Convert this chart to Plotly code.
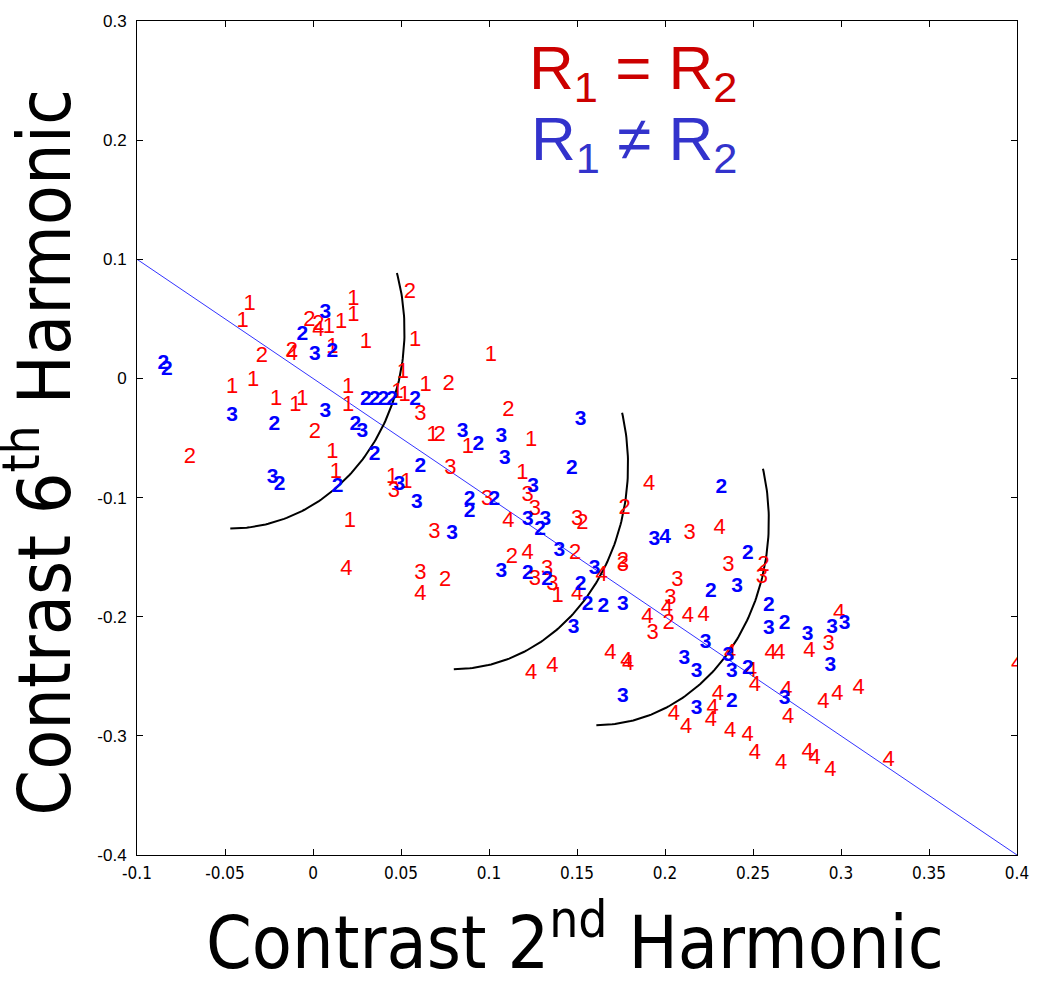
import numpy as np
import plotly.graph_objects as go

# ---- data ----
red_x = [-0.036, -0.040, -0.002, 0.003, 0.003, 0.009, 0.016, 0.023, 0.023, 0.055, 0.030, 0.058,
         -0.029, -0.012, -0.012, 0.011, -0.046, -0.034, -0.021, -0.010, -0.006, 0.001, 0.020, 0.020,
         0.011, 0.051, 0.048, 0.052, 0.064, 0.061, -0.070, 0.013, 0.021, 0.019, 0.045, 0.046, 0.053,
         0.069, 0.061, 0.061, 0.101, 0.077, 0.111, 0.068, 0.072, 0.088, 0.124, 0.078, 0.119, 0.122,
         0.126, 0.099, 0.150, 0.153, 0.111, 0.191, 0.177, 0.113, 0.122, 0.149, 0.126, 0.133, 0.136,
         0.139, 0.075, 0.150, 0.164, 0.176, 0.176, 0.214, 0.231, 0.207, 0.203, 0.201, 0.190, 0.193,
         0.202, 0.213, 0.222, 0.236, 0.256, 0.255, 0.169, 0.178, 0.179, 0.124, 0.136, 0.205, 0.299,
         0.293, 0.260, 0.265, 0.282, 0.237, 0.249, 0.251, 0.269, 0.270, 0.230, 0.227, 0.226, 0.212,
         0.237, 0.247, 0.251, 0.266, 0.281, 0.285, 0.294, 0.290, 0.298, 0.310, 0.327, 0.400]
red_y = [0.062, 0.048, 0.049, 0.045, 0.040, 0.043, 0.047, 0.066, 0.053, 0.072, 0.030, 0.032,
         0.018, 0.023, 0.020, 0.026, -0.008, -0.002, -0.018, -0.023, -0.018, -0.045, -0.008, -0.023,
         -0.062, 0.005, -0.012, -0.014, -0.006, -0.030, -0.066, -0.079, -0.120, -0.160, -0.083, -0.095, -0.087,
         -0.129, -0.164, -0.181, 0.019, -0.005, -0.027, -0.048, -0.048, -0.058, -0.052, -0.076, -0.080, -0.098,
         -0.110, -0.102, -0.118, -0.122, -0.120, -0.089, -0.109, -0.150, -0.147, -0.147, -0.169, -0.160, -0.173,
         -0.183, -0.170, -0.181, -0.165, -0.154, -0.157, -0.130, -0.126, -0.170, -0.185, -0.193, -0.201, -0.214,
         -0.206, -0.200, -0.199, -0.157, -0.157, -0.167, -0.231, -0.238, -0.240, -0.248, -0.242, -0.282, -0.197,
         -0.223, -0.231, -0.231, -0.229, -0.231, -0.246, -0.258, -0.262, -0.285, -0.265, -0.277, -0.287, -0.293,
         -0.296, -0.300, -0.315, -0.323, -0.314, -0.319, -0.329, -0.272, -0.265, -0.260, -0.321, -0.240]
red_lab = ['1', '1', '2', '2', '4', '1', '1', '1', '1', '2', '1', '1',
           '2', '2', '4', '1', '1', '1', '1', '1', '1', '2', '1', '1',
           '1', '1', '1', '1', '1', '3', '2', '1', '1', '4', '1', '3', '1',
           '3', '3', '4', '1', '2', '2', '1', '2', '1', '1', '3', '1', '3',
           '3', '3', '3', '2', '4', '4', '2', '2', '4', '2', '3', '3', '3',
           '1', '2', '4', '4', '2', '3', '3', '4', '3', '3', '4', '4', '3',
           '2', '4', '4', '3', '2', '3', '4', '4', '4', '4', '4', '4', '4',
           '3', '4', '4', '4', '4', '4', '4', '4', '4', '4', '4', '4', '4',
           '4', '4', '4', '4', '4', '4', '4', '4', '4', '4', '4', '4']

blue_x = [0.007, -0.006, 0.001, 0.011, -0.085, -0.083, -0.046, -0.022, 0.007, 0.024, 0.028, 0.030,
          0.035, 0.040, 0.045, 0.058, 0.035, 0.061, -0.023, -0.019, 0.014, 0.049, 0.059, 0.152,
          0.085, 0.094, 0.107, 0.109, 0.147, 0.125, 0.089, 0.089, 0.103, 0.122, 0.129, 0.132,
          0.079, 0.122, 0.140, 0.107, 0.133, 0.152, 0.160, 0.156, 0.165, 0.176, 0.148, 0.176,
          0.194, 0.200, 0.232, 0.247, 0.241, 0.226, 0.259, 0.259, 0.268, 0.281, 0.295, 0.302,
          0.294, 0.223, 0.211, 0.218, 0.236, 0.238, 0.247, 0.268, 0.218, 0.238]
blue_y = [0.055, 0.037, 0.020, 0.022, 0.012, 0.007, -0.031, -0.039, -0.028, -0.039, -0.045, -0.018,
          -0.018, -0.018, -0.018, -0.018, -0.064, -0.074, -0.083, -0.089, -0.091, -0.089, -0.104, -0.035,
          -0.045, -0.056, -0.049, -0.067, -0.076, -0.091, -0.102, -0.112, -0.102, -0.119, -0.127, -0.119,
          -0.130, -0.164, -0.145, -0.162, -0.169, -0.173, -0.160, -0.190, -0.192, -0.190, -0.209, -0.267,
          -0.135, -0.134, -0.092, -0.147, -0.175, -0.179, -0.191, -0.210, -0.206, -0.215, -0.209, -0.206,
          -0.241, -0.222, -0.235, -0.246, -0.233, -0.246, -0.244, -0.269, -0.277, -0.271]
blue_lab = ['3', '2', '3', '2', '2', '2', '3', '2', '3', '2', '3', '2',
            '2', '2', '2', '2', '2', '2', '3', '2', '2', '3', '3', '3',
            '3', '2', '3', '3', '2', '3', '2', '2', '2', '3', '2', '3',
            '3', '2', '3', '3', '2', '2', '3', '2', '2', '3', '3', '3',
            '3', '4', '2', '2', '3', '2', '2', '3', '2', '3', '3', '3',
            '3', '3', '3', '3', '3', '3', '2', '3', '3', '2']

# regression line y = -x across the axis range
line_x = [-0.1, 0.4]
line_y = [0.1, -0.4]

# three elliptical arcs: centre x, centre y, x-radius, y-radius, start/end angle (deg)
arc_cx = [-0.047, 0.080, 0.161]
arc_cy = [0.040, -0.073, -0.120]
arc_rx = [0.099, 0.099, 0.098]
arc_ry = [0.166, 0.171, 0.171]
arc_a0 = [-90, -90, -90]
arc_a1 = [17, 15, 15]

x_ticks = [-0.1, -0.05, 0, 0.05, 0.1, 0.15, 0.2, 0.25, 0.3, 0.35, 0.4]
x_tick_text = ['-0.1', '-0.05', '0', '0.05', '0.1', '0.15', '0.2', '0.25', '0.3', '0.35', '0.4']
y_ticks = [-0.4, -0.3, -0.2, -0.1, 0, 0.1, 0.2, 0.3]
y_tick_text = ['-0.4', '-0.3', '-0.2', '-0.1', '0', '0.1', '0.2', '0.3']

NARROW = "DejaVu Sans Condensed, Liberation Sans Narrow, Arial Narrow, Liberation Sans"
REG = "Liberation Sans, Arial"

fig = go.Figure()

fig.add_trace(go.Scatter(x=line_x, y=line_y, mode='lines',
                         line=dict(color='#3333ff', width=1), hoverinfo='skip'))

for cx, cy, rx, ry, a0, a1 in zip(arc_cx, arc_cy, arc_rx, arc_ry, arc_a0, arc_a1):
    t = np.radians(np.linspace(a0, a1, 120))
    fig.add_trace(go.Scatter(x=cx + rx * np.cos(t), y=cy + ry * np.sin(t), mode='lines',
                             line=dict(color='black', width=2), hoverinfo='skip'))

fig.add_trace(go.Scatter(x=red_x, y=red_y, mode='text', text=red_lab,
                         textposition='middle center',
                         textfont=dict(color='#ff0000', size=22, family=REG)))
fig.add_trace(go.Scatter(x=blue_x, y=blue_y, mode='text', text=blue_lab,
                         textposition='middle center',
                         textfont=dict(color='#0000ff', size=21, family=REG, weight='bold')))

axis_common = dict(showgrid=False, zeroline=False, showline=True, linecolor='black',
                   linewidth=1, mirror='ticks', ticks='inside', ticklen=6,
                   tickcolor='black')

fig.update_xaxes(range=[-0.1, 0.4], tickvals=x_ticks, ticktext=x_tick_text,
                 ticklabelstandoff=3,
                 tickfont=dict(family=NARROW, size=17, color='black'), **axis_common)
fig.update_yaxes(range=[-0.4, 0.3], tickvals=y_ticks, ticktext=y_tick_text,
                 ticklabelstandoff=6,
                 tickfont=dict(family=REG, size=17, color='black'), **axis_common)

fig.add_annotation(text="Contrast 2<sup>nd</sup> Harmonic", xref='paper', yref='paper',
                   x=0.498, y=-0.04, yanchor='top', showarrow=False,
                   font=dict(family=NARROW, size=73, color='black'))
fig.add_annotation(text="Contrast 6<sup>th</sup> Harmonic", xref='paper', yref='paper',
                   x=-0.0545, y=0.483, textangle=-90, xanchor='right', showarrow=False,
                   font=dict(family=NARROW, size=73, color='black'))

fig.add_annotation(text="R<sub>1</sub> = R<sub>2</sub>", xref='paper', yref='paper',
                   x=0.443, y=0.988, xanchor='left', yanchor='top', showarrow=False,
                   font=dict(family=REG, size=62, color='#cc0000'))
fig.add_annotation(text="R<sub>1</sub> \u2260 R<sub>2</sub>", xref='paper', yref='paper',
                   x=0.446, y=0.903, xanchor='left', yanchor='top', showarrow=False,
                   font=dict(family=REG, size=62, color='#3333cc'))

fig.update_layout(width=1044, height=983, margin=dict(l=137, r=27, t=17, b=128),
                  paper_bgcolor='white', plot_bgcolor='white', showlegend=False)

fig.write_html("out.html", config={'displayModeBar': False},
               post_script="document.body.style.margin='0';")
